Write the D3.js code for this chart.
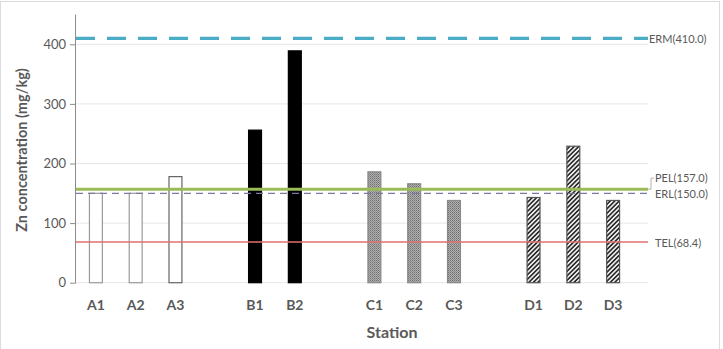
<!DOCTYPE html>
<html><head><meta charset="utf-8">
<script src="https://cdn.jsdelivr.net/npm/d3@7"></script>
<style>body{margin:0;background:#fff}svg{display:block}</style>
</head><body><svg id="c" width="723" height="349"></svg>
<script>
const stations = ["A1","A2","A3","B1","B2","C1","C2","C3","D1","D2","D3"];
const groups   = ["A","A","A","B","B","C","C","C","D","D","D"];
const zinc     = [150, 150, 178, 256, 389, 186, 166, 138, 143, 229, 138];
const slots    = ["A1","A2","A3","g1","B1","B2","g2","C1","C2","C3","g3","D1","D2","D3"];
const yTicks   = [0, 100, 200, 300, 400];
const guideNames  = ["ERM","PEL","ERL","TEL"];
const guideValues = [410.0, 157.0, 150.0, 68.4];

const svg = d3.select("#c");
const font = "Lato, 'Open Sans', sans-serif";
const textCol = "#595959";

// frame
svg.append("rect").attr("x",0.5).attr("y",1.5).attr("width",719).attr("height",360)
  .attr("fill","none").attr("stroke","#dcdcdc");

const x = d3.scaleBand().domain(slots).range([76, 633]).paddingInner(0.65).paddingOuter(0.325);
const y = d3.scaleLinear().domain([0, 450]).range([282.7, 14.5]);
const plotRight = 648;

// patterns
const defs = svg.append("defs");
const dots = defs.append("pattern").attr("id","dots").attr("patternUnits","userSpaceOnUse").attr("width",2).attr("height",2);
dots.append("rect").attr("width",2).attr("height",2).attr("fill","#b0b0b0");
dots.append("rect").attr("width",1).attr("height",1).attr("fill","#6e6e6e");
dots.append("rect").attr("x",1).attr("y",1).attr("width",1).attr("height",1).attr("fill","#8a8a8a");
const hatch = defs.append("pattern").attr("id","hatch").attr("patternUnits","userSpaceOnUse")
  .attr("width",3.2).attr("height",3.2).attr("patternTransform","rotate(45)");
hatch.append("rect").attr("width",3.2).attr("height",3.2).attr("fill","#ededed");
hatch.append("rect").attr("width",1.6).attr("height",3.2).attr("fill","#2a2a2a");

// gridlines
svg.append("g").selectAll("line").data(yTicks).join("line")
  .attr("x1",76).attr("x2",plotRight).attr("y1",d=>y(d)).attr("y2",d=>y(d))
  .attr("stroke","#e6e6e6").attr("stroke-width",1);

// y axis
const yAxis = svg.append("g").attr("transform","translate(76,0)")
  .call(d3.axisLeft(y).tickValues(yTicks).tickSize(6).tickPadding(4));
yAxis.select(".domain").attr("stroke","#8c8c8c").attr("d", `M-0.5,${y(0)}V${y(450)}`);
yAxis.selectAll(".tick line").attr("stroke","#8c8c8c");
yAxis.selectAll(".tick text").attr("fill",textCol).attr("font-family",font).attr("font-size",13);

// bars
const styles = {
  A:{fill:"#fff", stroke:"#9a9a9a"},
  B:{fill:"#000", stroke:"#000"},
  C:{fill:"url(#dots)", stroke:"#8a8a8a"},
  D:{fill:"url(#hatch)", stroke:"#555"}
};
svg.append("g").selectAll("rect").data(stations).join("rect")
  .attr("x",d=>x(d)+0.5).attr("width",x.bandwidth()-1)
  .attr("y",(d,i)=>y(zinc[i])).attr("height",(d,i)=>y(0)-y(zinc[i]))
  .attr("fill",(d,i)=>styles[groups[i]].fill)
  .attr("stroke",(d,i)=>i===2?"#666":styles[groups[i]].stroke)
  .attr("stroke-width",1.2);

// guide lines
const gStyle = {
  ERM:{stroke:"#4bacc6", w:3.2, dash:"19,12"},
  PEL:{stroke:"#9bbb59", w:3, dash:null},
  ERL:{stroke:"#7a7aa6", w:1.3, dash:"7,5"},
  TEL:{stroke:"#e07070", w:1.5, dash:null}
};
const gl = svg.append("g");
guideNames.forEach((n,i)=>{
  const s = gStyle[n];
  gl.append("line").attr("x1",76).attr("x2",plotRight)
    .attr("y1",y(guideValues[i])).attr("y2",y(guideValues[i]))
    .attr("stroke",s.stroke).attr("stroke-width",s.w)
    .attr("stroke-dasharray",s.dash);
});
// labels
const labelY = {ERM:y(410)+1, PEL:y(157)-11, ERL:y(150)+1, TEL:y(68.4)+1};
guideNames.forEach((n,i)=>{
  gl.append("text").attr("x", n==="ERM"?649:655).attr("y",labelY[n]).attr("dy","0.35em")
    .attr("fill",textCol).attr("font-family",font).attr("font-size",11)
    .text(`${n}(${guideValues[i].toFixed(1)})`);
});
gl.append("path").attr("d",`M${plotRight},${y(157)}H651V${labelY.PEL}H654`)
  .attr("fill","none").attr("stroke","#a0a0a0").attr("stroke-width",0.8);

// x labels
svg.append("g").selectAll("text").data(stations).join("text")
  .attr("x",d=>x(d)+x.bandwidth()/2).attr("y",305).attr("dy","0.35em")
  .attr("text-anchor","middle").attr("fill",textCol).attr("font-family",font)
  .attr("font-weight","bold").attr("font-size",14).text(d=>d);

// axis titles
svg.append("text").attr("x",392).attr("y",332).attr("dy","0.35em").attr("text-anchor","middle")
  .attr("fill",textCol).attr("font-family",font).attr("font-weight","bold").attr("font-size",16)
  .text("Station");
svg.append("text").attr("transform","translate(22,150) rotate(-90)").attr("dy","0.35em")
  .attr("text-anchor","middle").attr("fill",textCol).attr("font-family",font)
  .attr("font-weight","bold").attr("font-size",14.5).text("Zn concentration (mg/kg)");
</script></body></html>
